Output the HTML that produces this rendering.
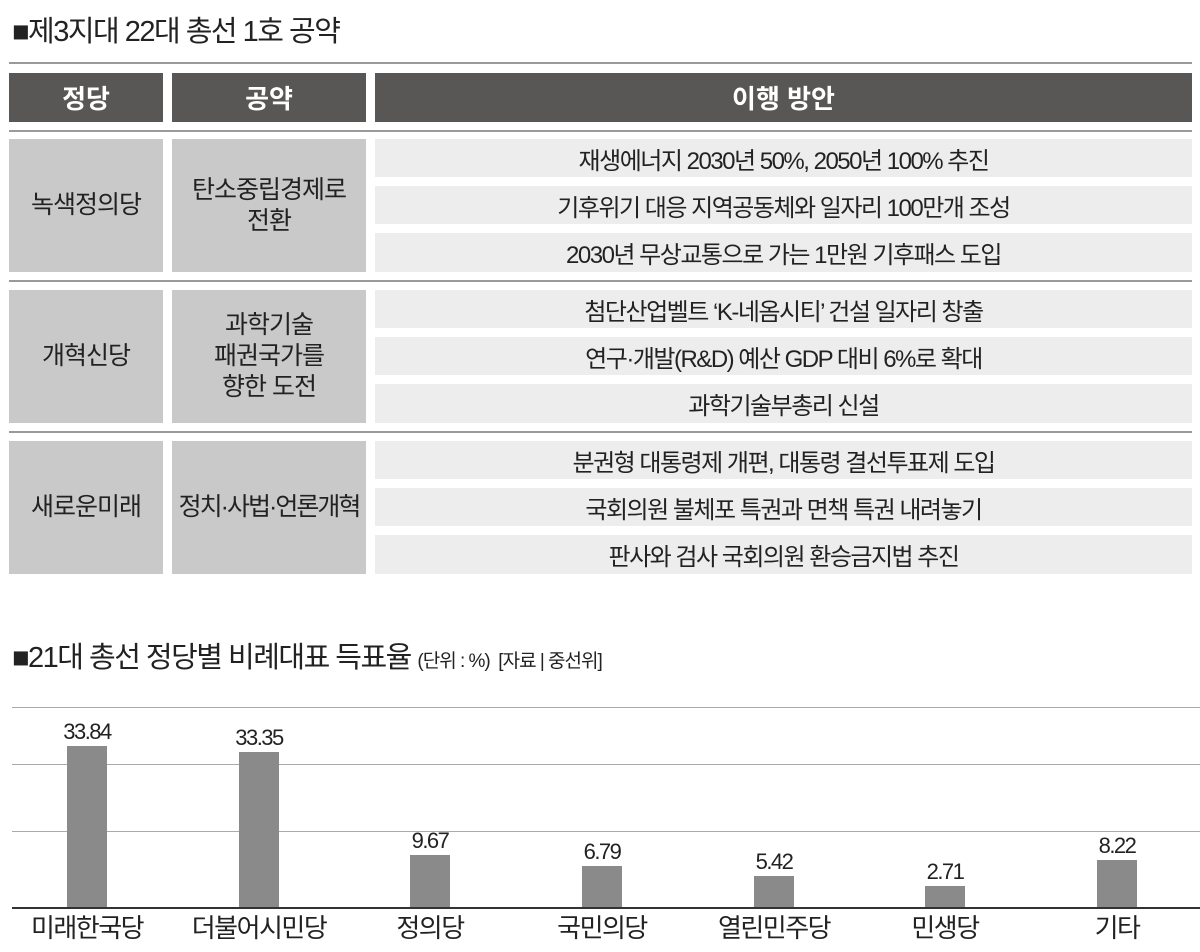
<!DOCTYPE html>
<html><head><meta charset="utf-8"><style>
body{margin:0;width:1200px;height:952px;background:#fff;position:relative;overflow:hidden;font-family:"Liberation Sans","Noto Sans CJK KR",sans-serif;color:#222}
.a{position:absolute;box-sizing:border-box;display:flex;align-items:center;justify-content:center;text-align:center}
.h{background:#595755;color:#fff;font-size:26px;font-weight:bold}
.g{background:#c9c9c9;font-size:25px;line-height:31px;color:#222;letter-spacing:-1px}
.s{background:#ededed;font-size:24px;color:#222;letter-spacing:-1.5px}
.ln{position:absolute;left:9px;width:1183px;height:2px;background:#9a9a9a}
.gl{position:absolute;left:12px;width:1188px;height:1px;background:#aaa}
.bar{position:absolute;width:40px;background:#8a8a8a}
.v{position:absolute;width:120px;text-align:center;font-size:22px;letter-spacing:-1.5px}
.x{position:absolute;width:170px;text-align:center;font-size:26px;top:908px;letter-spacing:-1.5px}
</style></head><body>
<div style="position:absolute;left:12px;top:8px;font-size:29px;letter-spacing:-1.5px">■제3지대 22대 총선 1호 공약</div>
<div class="ln" style="top:62px"></div>
<div class="a h" style="left:9px;top:73px;width:154px;height:49px">정당</div>
<div class="a h" style="left:172px;top:73px;width:194px;height:49px">공약</div>
<div class="a h" style="left:375px;top:73px;width:817px;height:49px">이행 방안</div>
<div class="ln" style="top:130px"></div>

<div class="a g" style="left:9px;top:139px;width:154px;height:133px">녹색정의당</div>
<div class="a g" style="left:172px;top:139px;width:194px;height:133px">탄소중립경제로<br>전환</div>
<div class="a s" style="left:375px;top:139px;width:817px;height:38px">재생에너지 2030년 50%, 2050년 100% 추진</div>
<div class="a s" style="left:375px;top:186px;width:817px;height:38px">기후위기 대응 지역공동체와 일자리 100만개 조성</div>
<div class="a s" style="left:375px;top:233px;width:817px;height:39px">2030년 무상교통으로 가는 1만원 기후패스 도입</div>
<div class="ln" style="top:280px"></div>

<div class="a g" style="left:9px;top:290px;width:154px;height:133px">개혁신당</div>
<div class="a g" style="left:172px;top:290px;width:194px;height:133px">과학기술<br>패권국가를<br>향한 도전</div>
<div class="a s" style="left:375px;top:290px;width:817px;height:38px">첨단산업벨트 ‘K-네옴시티’ 건설 일자리 창출</div>
<div class="a s" style="left:375px;top:337px;width:817px;height:38px">연구·개발(R&amp;D) 예산 GDP 대비 6%로 확대</div>
<div class="a s" style="left:375px;top:384px;width:817px;height:39px">과학기술부총리 신설</div>
<div class="ln" style="top:431px"></div>

<div class="a g" style="left:9px;top:441px;width:154px;height:133px">새로운미래</div>
<div class="a g" style="left:172px;top:441px;width:194px;height:133px;letter-spacing:-2px">정치·사법·언론개혁</div>
<div class="a s" style="left:375px;top:441px;width:817px;height:38px">분권형 대통령제 개편, 대통령 결선투표제 도입</div>
<div class="a s" style="left:375px;top:488px;width:817px;height:38px">국회의원 불체포 특권과 면책 특권 내려놓기</div>
<div class="a s" style="left:375px;top:535px;width:817px;height:39px">판사와 검사 국회의원 환승금지법 추진</div>

<div style="position:absolute;left:12px;top:634px;font-size:29px;letter-spacing:-1.5px;white-space:nowrap">■21대 총선 정당별 비례대표 득표율 <span style="font-size:19px;letter-spacing:-1px">(단위 : %) &nbsp;[자료 | 중선위]</span></div>
<div class="gl" style="top:707px"></div>
<div class="gl" style="top:764px"></div>
<div class="gl" style="top:831px"></div>
<div style="position:absolute;left:12px;width:1188px;top:907px;height:2px;background:#333"></div>

<div class="bar" style="left:67px;top:746px;height:161px"></div><div class="v" style="left:27px;top:719px">33.84</div>
<div class="bar" style="left:239px;top:752px;height:155px"></div><div class="v" style="left:199px;top:725px">33.35</div>
<div class="bar" style="left:410px;top:855px;height:52px"></div><div class="v" style="left:370px;top:828px">9.67</div>
<div class="bar" style="left:582px;top:866px;height:41px"></div><div class="v" style="left:542px;top:839px">6.79</div>
<div class="bar" style="left:754px;top:876px;height:31px"></div><div class="v" style="left:714px;top:849px">5.42</div>
<div class="bar" style="left:925px;top:886px;height:21px"></div><div class="v" style="left:885px;top:859px">2.71</div>
<div class="bar" style="left:1097px;top:860px;height:47px"></div><div class="v" style="left:1057px;top:833px">8.22</div>

<div class="x" style="left:2px">미래한국당</div>
<div class="x" style="left:174px">더불어시민당</div>
<div class="x" style="left:345px">정의당</div>
<div class="x" style="left:517px">국민의당</div>
<div class="x" style="left:689px">열린민주당</div>
<div class="x" style="left:860px">민생당</div>
<div class="x" style="left:1032px">기타</div>
</body></html>
